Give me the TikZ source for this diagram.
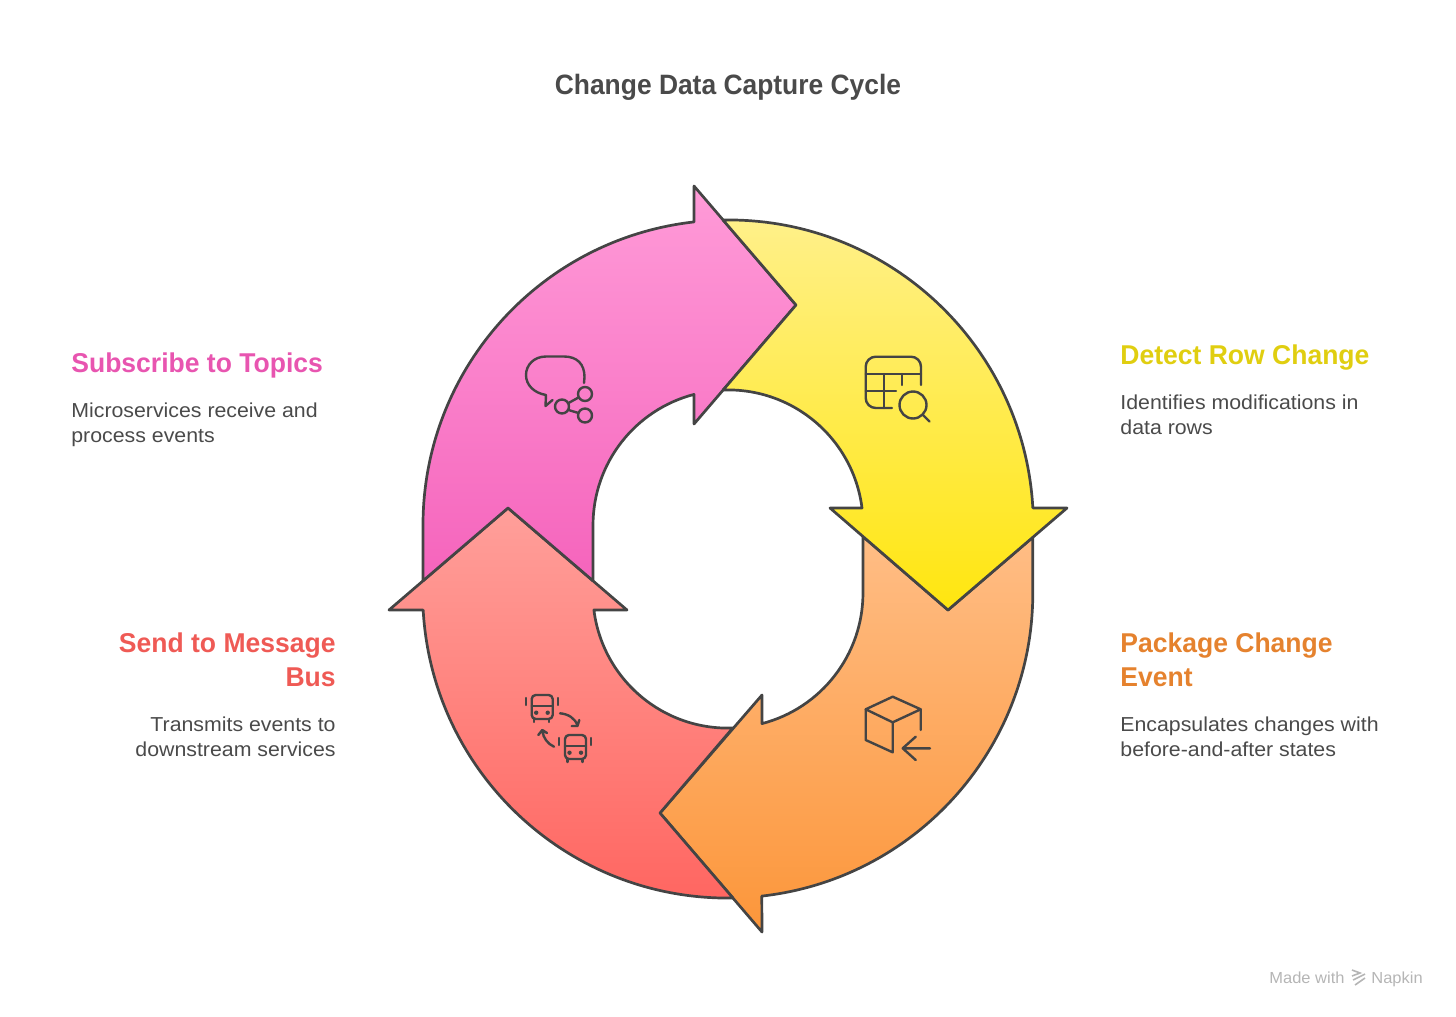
\documentclass[tikz,border=0pt]{standalone}
\usepackage{fontspec}
\setmainfont{Liberation Sans}
\newfontface\titlef[FakeStretch=0.943]{Liberation Sans Bold}
\newfontface\headf[FakeStretch=0.975]{Liberation Sans Bold}
\newfontface\descf[FakeStretch=1.055]{Liberation Sans}
\newfontface\credf[FakeStretch=1.03]{Liberation Sans}
\definecolor{ink}{HTML}{444444}
\definecolor{txt}{HTML}{4A4A4A}
\definecolor{cyel}{HTML}{E0CE10}
\definecolor{cora}{HTML}{E5822E}
\definecolor{cred}{HTML}{EF5A55}
\definecolor{cpnk}{HTML}{E855B0}
\definecolor{ot}{HTML}{FFBD85}\definecolor{ob}{HTML}{FC963A}
\definecolor{yt}{HTML}{FFF08A}\definecolor{yb}{HTML}{FFE60F}
\definecolor{rt}{HTML}{FF9F9A}\definecolor{rb}{HTML}{FF6661}
\definecolor{pt}{HTML}{FF9BD8}\definecolor{pb}{HTML}{F564BC}
\definecolor{credit}{HTML}{B5B5B5}
\newcommand\busicon[2]{\begin{scope}[shift={(#1,#2)}]
    \draw[ico,rounded corners=2pt] (-10.5,-12) rectangle (10.5,12);
    \draw[ico] (-10.5,-1) -- (10.5,-1);
    \fill[busdot] (-6,5.7) circle (2.2) (5.5,5.7) circle (2.2);
    \draw[ico] (-8,12) -- (-8,15) (7,12) -- (7,15);
    \draw[ico] (-16.5,-9) -- (-16.5,-2) (15.5,-9) -- (15.5,-2);
\end{scope}}
\tikzset{
  seg/.style={draw=ink,line width=1.35pt,line join=round},
  ico/.style={draw=ink,line width=1.2pt,line cap=round,line join=round},
  head/.style={inner sep=0pt,font=\fontsize{13.6}{17}\selectfont\headf,anchor=north west},
  desc/.style={inner sep=0pt,font=\fontsize{10.1}{12.6}\selectfont\descf,text=txt,anchor=north west},
  busdot/.style={fill=ink,draw=none},
}
\begin{document}
\begin{tikzpicture}[x=0.5pt,y=0.5pt,yscale=-1]
\useasboundingbox (0,0) rectangle (1456,1017);
% ring segments
\path[seg,top color=ot,bottom color=ob] (1032.8,537.3) -- (1032.8,593) arc[start angle=0,end angle=83.6,radius=305] -- (762,932) -- (660,813) -- (762,695) -- (762,723.6) arc[start angle=75.4,end angle=0,radius=135] -- (863,536.6) -- (948,610) -- cycle;
\path[seg,top color=rt,bottom color=rb] (508,508) -- (627,610) -- (593.9,610) arc[start angle=172.8,end angle=87.9,radius=135] -- (660,813) -- (733,898) arc[start angle=89,end angle=176.8,radius=305] -- (389,610) -- cycle;
\path[seg,top color=pt,bottom color=pb] (423,580.8) -- (423,525) arc[start angle=180,end angle=263.6,radius=305] -- (694,186) -- (796,305) -- (694,424) -- (694,394.4) arc[start angle=255.4,end angle=180,radius=135] -- (593,580.8) -- (508,508) -- cycle;
\path[seg,top color=yt,bottom color=yb] (723,220) arc[start angle=269,end angle=356.8,radius=305] -- (1067,508) -- (948,610) -- (830,508) -- (862,508) arc[start angle=352.8,end angle=267.9,radius=135] -- (796,305) -- cycle;
% title
\node[inner sep=0pt,font=\fontsize{14}{17}\selectfont\titlef,text=txt,anchor=base] (title) at (728,94) {Change Data Capture Cycle};
% labels
\node[head,text=cyel] (h1) at (1120,344.5) {Detect Row Change};
\node[desc,align=left] (d1) at (1120,394) {Identifies modifications in\\data rows};
\node[head,text=cora,align=left] (h2) at (1120,632.5) {Package Change\\Event};
\node[desc,align=left] (d2) at (1120,716) {Encapsulates changes with\\before-and-after states};
\node[head,text=cred,align=right,anchor=north east] (h3) at (336,632.5) {Send to Message\\Bus};
\node[desc,align=right,anchor=north east] (d3) at (336,716) {Transmits events to\\downstream services};
\node[head,text=cpnk] (h4) at (71,352.5) {Subscribe to Topics};
\node[desc,align=left] (d4) at (71,402) {Microservices receive and\\process events};
% pink icon
\draw[ico] (584,383) -- (584.5,377) .. controls (584.5,364) and (577,356.5) .. (564,356.5) -- (546,356.5) .. controls (534,356.5) and (526,365) .. (526,375) .. controls (526,385) and (534,393) .. (546,395) -- (545.5,406) -- (552.5,400);
\draw[ico] (585,394) circle (7) (562,406.5) circle (7) (585,415.5) circle (7);
\draw[ico] (568.5,403) -- (578.5,397.5) (568.5,410) -- (578.5,413);
% yellow icon
\draw[ico,rounded corners=5pt] (921,385) -- (921,356.7) -- (865.7,356.7) -- (865.7,408) -- (892,408);
\draw[ico] (865.7,374) -- (921,374) (884,374) -- (884,408) (865.7,391) -- (896,391) (902,374) -- (902,385);
\draw[ico] (913,405) circle (13.5) (923,415) -- (929.5,421.5);
% orange icon
\draw[ico] (892.7,696.7) -- (920.7,709.3) -- (892.7,722.3) -- (865.7,709.3) -- cycle;
\draw[ico] (865.7,709.3) -- (865.7,740) -- (892.7,752.3) -- (892.7,722.3) (920.7,709.3) -- (920.7,730);
\draw[ico] (930,748.3) -- (902.7,748.3) (915.7,736.7) -- (902.7,748.3) -- (915.7,760);
% red icon
\busicon{542.2}{707}
\busicon{575.5}{747}
\draw[ico] (560,713.3) .. controls (568,714) and (575,718) .. (577.5,725.5) (579.3,720) -- (577.5,726) -- (571.7,726);
\draw[ico] (554,746.7) .. controls (548,744) and (543,738) .. (542.5,731) (538.3,735) -- (542.3,730) -- (547,733);
% credit
\node[inner sep=0pt,font=\fontsize{8}{10}\selectfont\credf,text=credit,anchor=base west] (m1) at (1269,983) {Made with};
\node[inner sep=0pt,font=\fontsize{8}{10}\selectfont\credf,text=credit,anchor=base west] (m2) at (1371,983) {Napkin};
\draw[credit,line width=0.8pt] (1352,970) -- (1360,973) -- (1352,976) (1365,974) -- (1353,980) (1365,978) -- (1355,985);
\end{tikzpicture}
\end{document}
